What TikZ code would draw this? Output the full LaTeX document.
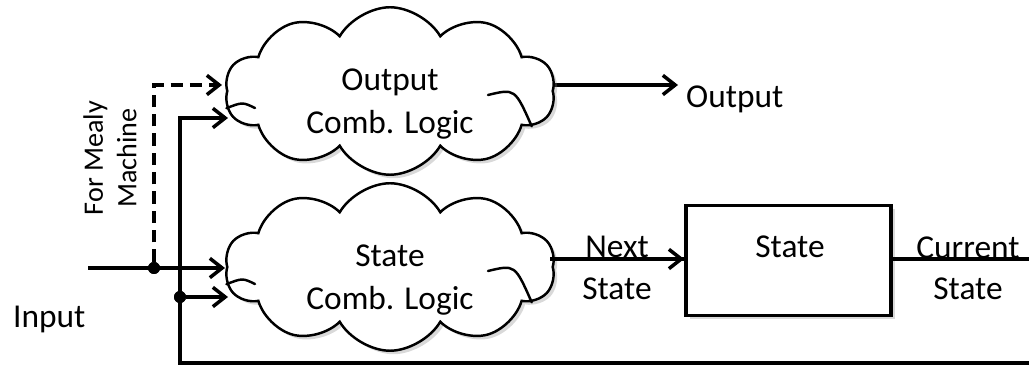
\documentclass[tikz,border=0pt]{standalone}
\usepackage{fontspec}
\setmainfont{Carlito}
\usepackage{tikz}
\usetikzlibrary{shapes.symbols}
\usetikzlibrary{shadows}
\usetikzlibrary{arrows.meta}

\tikzset{
  logic/.style={cloud, draw, line width=1.4pt, fill=white, cloud puffs=10,
    cloud puff arc=120, cloud ignores aspect, minimum width=6.6cm,
    minimum height=3.35cm, inner sep=0pt,
    drop shadow={opacity=0.3, shadow xshift=0.07cm, shadow yshift=-0.07cm}},
  curl/.style={line width=1.4pt, line cap=round},
  statebox/.style={draw, line width=2.2pt, fill=white, minimum width=4.1cm,
    minimum height=2.2cm,
    drop shadow={opacity=0.3, shadow xshift=0.07cm, shadow yshift=-0.07cm}},
  wire/.style={line width=2.2pt},
  arrow/.style={wire, -{Straight Barb[length=7pt,width=11pt,line width=2pt]}},
  joint/.style={circle, fill, inner sep=0pt, minimum size=0.24cm},
}

% inner folds of a cloud, given its name
\newcommand{\cloudfolds}[1]{%
  \draw[curl] ([shift={(1.96,-0.08)}]#1.center) .. controls ([shift={(2.5,0.05)}]#1.center) .. (#1.-14);
  \draw[curl] (#1.186) .. controls ([shift={(-2.95,-0.22)}]#1.center) .. ([shift={(-2.7,-0.34)}]#1.center);
}

\begin{document}
\begin{tikzpicture}[font=\fontsize{19}{24}\selectfont]
    \useasboundingbox (0,0) rectangle (20.58,7.42);

    % wire ends
    \coordinate (inp)     at ( 1.76,2.06);
    \coordinate (instate) at ( 4.50,2.06);
    \coordinate (mealy)   at ( 4.44,5.72);
    \coordinate (fbstart) at (20.58,0.16);
    \coordinate (fbup)    at ( 3.60,5.06);
    \coordinate (fbout)   at ( 4.56,5.06);
    \coordinate (fbstate) at ( 4.56,1.48);
    \coordinate (outfrom) at (11.00,5.72);
    \coordinate (outto)   at (13.56,5.72);
    \coordinate (nsfrom)  at (11.00,2.24);

    \node[joint] (split) at (3.08,2.06) {};
    \node[joint] (fbtap) at (3.60,1.48) {};

    % lines behind the shapes
    \draw[arrow] (outfrom) -- (outto);
    \draw[wire] (nsfrom) -- (13.7,2.24);

    \node[logic] (outlogic)   at (7.8,5.6) {};
    \node[logic] (statelogic) at (7.8,2.08) {};
    \cloudfolds{outlogic}
    \cloudfolds{statelogic}
    \node[align=center] (outtext)   at ([yshift=-0.26cm]outlogic.center)   {Output\\Comb. Logic};
    \node[align=center] (statetext) at ([yshift=-0.26cm]statelogic.center) {State\\Comb. Logic};

    \node[statebox] (state) at (15.77,2.21) {};
    \node (stlabel) at (15.8,2.48) {State};

    \draw[arrow] (nsfrom) -- (state.west |- nsfrom);
    \draw[wire] (state.east |- nsfrom) -- (fbstart |- nsfrom);

    % input and the mealy path
    \draw[arrow] (inp) -- (instate);
    \draw[arrow, dash pattern=on 7pt off 4pt] (split) |- (mealy);

    % feedback of the current state
    \draw[arrow] (fbstart) -| (fbup) -- (fbout);
    \draw[arrow] (fbtap) -- (fbstate);
    \node[joint] at (split) {};
    \node[joint] at (fbtap) {};

    % labels
    \node[anchor=base west] (outlabel) at (13.6,5.27) {Output};
    \node[anchor=base] (next)  at (12.34,2.27) {Next};
    \node[anchor=base] (nextb) at (12.34,1.43) {State};
    \node[anchor=base] (cur)   at (19.36,2.24) {Current};
    \node[anchor=base] (curb)  at (19.36,1.43) {State};
    \node[anchor=base west] (inlabel) at (0.14,0.86) {Input};
    \node[rotate=90, align=center, font=\fontsize{16}{19}\selectfont] (mealytext)
        at (2.2,4.26) {For Mealy\\Machine};
\end{tikzpicture}
\end{document}
